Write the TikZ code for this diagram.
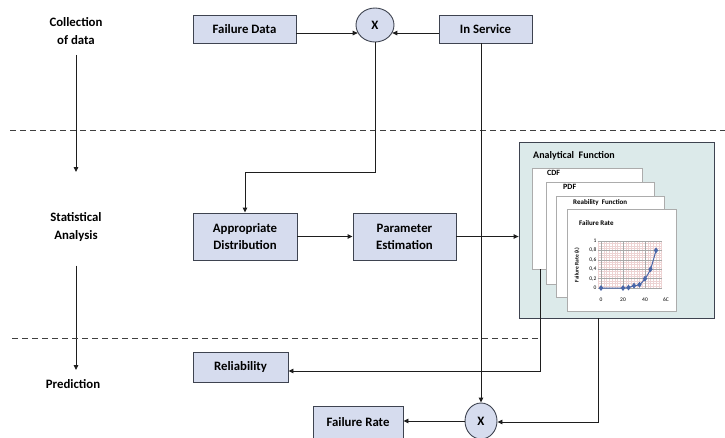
\documentclass[tikz,border=0pt]{standalone}
\usepackage{fontspec}
\setmainfont{Carlito}
\usetikzlibrary{arrows.meta,shapes.geometric,calc,plotmarks}
\definecolor{boxfill}{HTML}{D6DCEE}
\definecolor{boxline}{HTML}{3E4350}
\definecolor{affill}{HTML}{DCEAEA}
\definecolor{linecol}{HTML}{1E1E1E}
\definecolor{series}{HTML}{4A67A8}
\definecolor{gridpink}{HTML}{EDD3D3}
\definecolor{gridgray}{HTML}{A8A8A8}
\begin{document}
\begin{tikzpicture}[x=1pt,y=-1pt,
  box/.style={draw=boxline, fill=boxfill, line width=0.9pt, inner sep=0pt, align=center,
    font=\fontsize{12.8}{17}\selectfont\bfseries},
  mult/.style={ellipse, draw=boxline, fill=boxfill, line width=0.9pt, inner sep=0pt,
    font=\fontsize{12.8}{15}\selectfont\bfseries},
  conn/.style={draw=linecol, line width=0.9pt, -{Triangle[length=5pt,width=4.5pt]}},
  phase/.style={inner sep=0pt, align=center, font=\fontsize{12.8}{18}\selectfont\bfseries},
  sep/.style={draw=linecol!85, line width=1pt, dash pattern=on 6pt off 4pt},
  page/.style={draw=gray!65, fill=white, line width=0.5pt, inner sep=0pt},
  pagelabel/.style={anchor=west, inner sep=0pt, font=\fontsize{7}{8}\selectfont\bfseries},
  tick/.style={inner sep=0pt, font=\fontsize{5.5}{6}\selectfont},
  gminor/.style={draw=gridpink, line width=0.25pt},
  gmajor/.style={draw=gridgray, line width=0.35pt}]
\useasboundingbox (0,0) rectangle (725,437);

% phase labels
\node[phase] (t1) at (76,31) {Collection\\of data};
\node[phase] (t2) at (76,227) {Statistical\\Analysis};
\node[phase] (t3) at (73,384) {Prediction};
\coordinate (a1e) at (76,172);
\coordinate (a2e) at (76,370);
\draw[conn, shorten <=10pt] (t1.south) -- (a1e);
\draw[conn, shorten <=24pt] (t2.south) -- (a2e);

% separators
\draw[sep] (10,130) -- (725,130);
\draw[sep] (12,338) -- (539,338);

% top row
\node[box, minimum width=103pt, minimum height=28pt] (fd) at (244.5,29) {Failure Data};
\node[box, minimum width=93pt, minimum height=28pt] (ins) at (485.5,29) {In Service};
\node[mult, minimum width=38pt, minimum height=34pt] (x1) at (375,25) {X};

% middle row
\node[box, minimum width=104pt, minimum height=47pt] (ad) at (245,236.5) {Appropriate\\Distribution};
\node[box, minimum width=103pt, minimum height=47pt] (pe) at (404.5,236.5) {Parameter\\Estimation};

% analytical function panel
\node[draw=boxline, fill=affill, line width=0.8pt, minimum width=195pt, minimum height=176pt, inner sep=0pt] (af) at (616.5,230) {};
\node[anchor=west, inner sep=0pt, font=\fontsize{10}{12}\selectfont\bfseries] (aft) at (533,156) {Analytical\ \ Function};
\node[page, minimum width=110pt, minimum height=101pt] (p1) at (587,218.5) {};
\node[pagelabel, font=\fontsize{8}{9}\selectfont\bfseries] (p1l) at (547,173) {CDF};
\node[page, minimum width=108pt, minimum height=102pt] (p2) at (600,233) {};
\node[pagelabel, font=\fontsize{8}{9}\selectfont\bfseries] (p2l) at (563,187) {PDF};
\node[page, minimum width=108pt, minimum height=101pt] (p3) at (610,246.5) {};
\node[pagelabel] (p3l) at (573,203) {Reability\ \ Function};
\node[page, minimum width=109pt, minimum height=102pt] (p4) at (621.5,260) {};
\node[pagelabel] (p4l) at (579,223) {Failure Rate};

% chart
\begin{scope}[shift={(601,288)}, x=1.1pt, y=47pt]
  \foreach \gx in {-2.5,0,...,55} \draw[gminor] (\gx,0) -- (\gx,1);
  \foreach \gy in {0,0.05,...,1.01} \draw[gminor] (-3,\gy) -- (55,\gy);
  \foreach \gx in {0,20,40} \draw[gmajor] (\gx,0) -- (\gx,1);
  \foreach \gy in {0,0.2,0.4,0.6,0.8,1} \draw[gmajor] (-3,\gy) -- (55,\gy);
  \node[tick, anchor=east] (yl0) at (-4,0) {0};
  \node[tick, anchor=east] (yl2) at (-4,0.2) {0,2};
  \node[tick, anchor=east] (yl4) at (-4,0.4) {0,4};
  \node[tick, anchor=east] (yl6) at (-4,0.6) {0,6};
  \node[tick, anchor=east] (yl8) at (-4,0.8) {0,8};
  \node[tick, anchor=east] (yl10) at (-4,1) {1};
  \node[tick] (xl0) at (0,-0.25) {0};
  \node[tick] (xl20) at (20,-0.25) {20};
  \node[tick] (xl40) at (40,-0.25) {40};
  \node[tick] (xl60) at (59,-0.25) {6C};
  \draw[series, line width=1pt, smooth, tension=0.45, mark=diamond*,
        mark options={fill=series, draw=series, scale=1.05}]
    plot coordinates {(0,0) (20,0) (25,0.01) (30,0.05) (35,0.07) (40,0.2) (45,0.4) (50,0.8)};
\end{scope}
\node[rotate=90, inner sep=0pt, font=\fontsize{5.5}{6}\selectfont\bfseries] (ytitle) at (577,265) {Failure Rate (λ)};

% bottom row
\node[box, minimum width=95pt, minimum height=30pt] (rel) at (240.5,367) {Reliability};
\node[mult, minimum width=32pt, minimum height=36pt] (x2) at (481,421) {X};
\node[box, minimum width=90pt, minimum height=32pt] (fr) at (358,422) {Failure Rate};

% connectors
\draw[conn] (x1.205 -| fd.east) -- (x1.205);
\draw[conn] (x1.335 -| ins.west) -- (x1.335);
\coordinate (turn1) at (0,172);
\draw[conn] (x1.south) |- (ad.north |- turn1) -- (ad.north);
\draw[conn] (ad.east) -- (pe.west);
\draw[conn] (pe.east) -- (pe.east -| af.west);
\draw[conn] (x2.north |- ins.south) -- (x2.north);
\coordinate (r1) at (540,371);
\draw[conn] (r1 |- p1.south) -- (r1) -- (r1 -| rel.east);
\coordinate (r2) at (598,422);
\draw[conn] (r2 |- af.south) -- (r2) -- (r2 -| x2.east);
\draw[conn] (x2.west) -- (x2.west -| fr.east);
\end{tikzpicture}
\end{document}
